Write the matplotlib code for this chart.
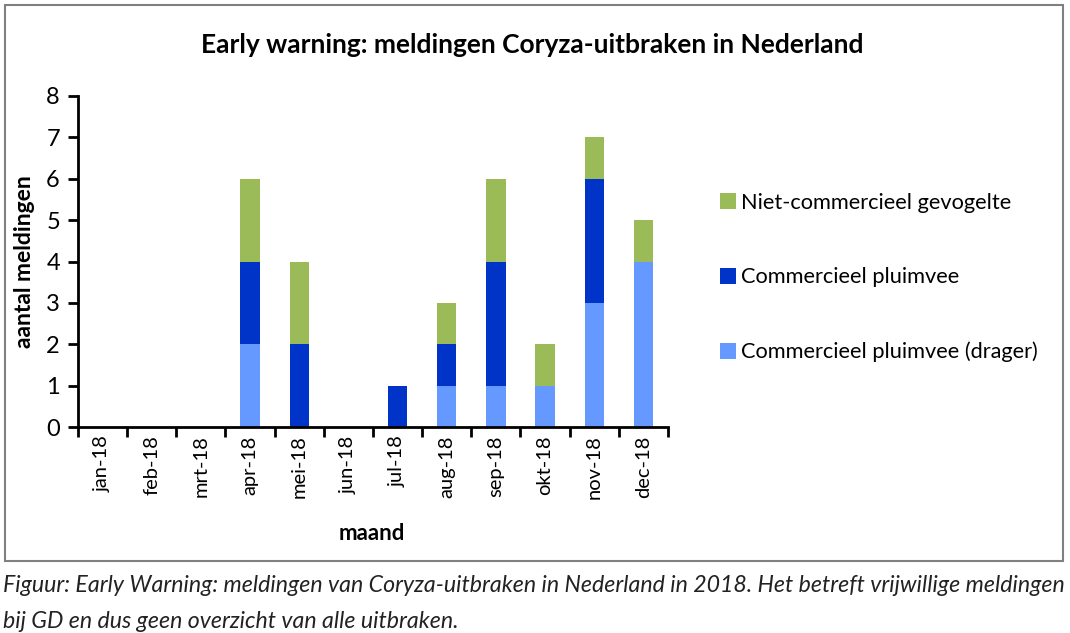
import matplotlib
matplotlib.use("Agg")
import matplotlib.pyplot as plt
from matplotlib.patches import Rectangle
import numpy as np

months = ["jan-18", "feb-18", "mrt-18", "apr-18", "mei-18", "jun-18",
          "jul-18", "aug-18", "sep-18", "okt-18", "nov-18", "dec-18"]
drager = [0, 0, 0, 2, 0, 0, 0, 1, 1, 1, 3, 4]
commercieel = [0, 0, 0, 2, 2, 0, 1, 1, 3, 0, 3, 0]
niet_commercieel = [0, 0, 0, 2, 2, 0, 0, 1, 2, 1, 1, 1]
series_names = ["Commercieel pluimvee (drager)", "Commercieel pluimvee",
                "Niet-commercieel gevogelte"]
yticks = [0, 1, 2, 3, 4, 5, 6, 7, 8]

colors = ["#6699FF", "#0033C8", "#9BBB59"]
FONT = ["Lato", "DejaVu Sans"]
plt.rcParams['font.family'] = FONT

W, H = 1070, 633
fig = plt.figure(figsize=(W / 100, H / 100), dpi=100)

# outer border
fig.add_artist(Rectangle((5 / W, 1 - 561 / H), 1058 / W, 556 / H,
                         transform=fig.transFigure, fill=False,
                         edgecolor="#808080", linewidth=1.5))

ax = fig.add_axes([78 / W, 1 - 427 / H, 590 / W, 331 / H])
x = np.arange(len(months))
bw = 0.39
bottom = np.zeros(len(months))
handles = []
for vals, c, name in zip([drager, commercieel, niet_commercieel], colors, series_names):
    b = ax.bar(x, vals, bw, bottom=bottom, color=c, label=name, linewidth=0)
    handles.append(b)
    bottom += np.array(vals)

ax.set_xlim(-0.5, len(months) - 0.5)
ax.set_ylim(0, 8)
ax.set_yticks(yticks)
ax.set_yticklabels([str(v) for v in yticks], fontsize=17)
ax.set_xticks(x)
ax.set_xticklabels(months, rotation=90, fontsize=14.5, va="top", ha="center")
ax.set_xticks(np.arange(-0.5, len(months)), minor=True)
ax.tick_params(axis="x", which="major", length=0, pad=6)
ax.tick_params(axis="x", which="minor", length=7, width=2, direction="out")
ax.tick_params(axis="y", length=7, width=2, direction="out", pad=6)
for s in ["top", "right"]:
    ax.spines[s].set_visible(False)
for s in ["left", "bottom"]:
    ax.spines[s].set_linewidth(2)

fig.text(532 / W, 1 - 45 / H, "Early warning: meldingen Coryza-uitbraken in Nederland",
         ha="center", va="center", fontsize=19, fontweight="bold")
fig.text(25 / W, 1 - 262 / H, "aantal meldingen", rotation=90, ha="center",
         va="center", fontsize=16.5, fontweight="bold")
fig.text(372 / W, 1 - 533 / H, "maand", ha="center", va="center",
         fontsize=16, fontweight="bold")

leg = fig.legend([handles[2], handles[1], handles[0]],
                 [series_names[2], series_names[1], series_names[0]],
                 loc="upper left", bbox_to_anchor=(700 / W, 1 - 173 / H),
                 frameon=False, fontsize=15.7, handlelength=0.75, handleheight=0.75,
                 handletextpad=0.25, labelspacing=2.5)

cap_font = ["Liberation Sans Narrow", "Lato", "DejaVu Sans"]
fig.text(3 / W, 1 - 585 / H,
         "Figuur: Early Warning: meldingen van Coryza-uitbraken in Nederland in 2018. "
         "Het betreft vrijwillige meldingen",
         ha="left", va="center", fontsize=16.7, style="italic",
         family=cap_font, color="#222222")
fig.text(3 / W, 1 - 621 / H, "bij GD en dus geen overzicht van alle uitbraken.",
         ha="left", va="center", fontsize=16.7, style="italic",
         family=cap_font, color="#222222")

fig.savefig("out.png", dpi=100)
